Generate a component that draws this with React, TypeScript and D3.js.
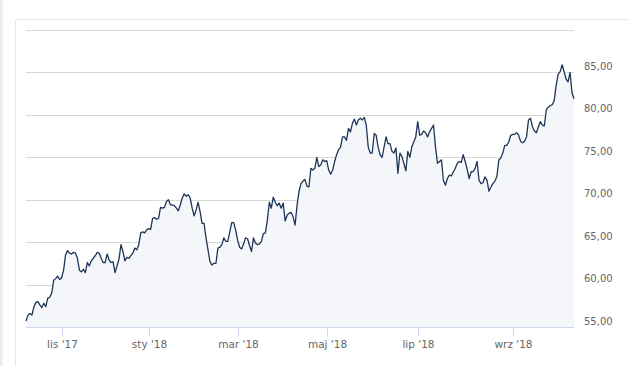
import { useEffect, useRef } from "react"
import * as d3 from "d3"

// closing prices, one per session in order
const pricesOctDec17 = [
  55.7, 56.4, 56.6, 56.4, 57.4, 57.9, 58.0, 57.6, 57.3, 57.8, 57.4, 58.4, 58.5, 59.0, 60.5, 60.7,
  61.0, 60.6, 60.8, 61.7, 63.5, 64.0, 63.7, 63.6, 63.8, 63.7, 63.1, 61.7, 61.5, 61.8, 61.4, 62.6,
  62.2, 62.8, 63.1, 63.4, 63.8, 63.7, 63.1, 62.6, 62.6, 63.6, 62.9, 62.6, 62.7, 61.4, 62.2, 63.0,
]
const pricesDecFeb18 = [
  64.7, 63.9, 62.8, 63.2, 63.1, 63.4, 63.7, 64.3, 64.1, 64.7, 66.1, 66.2, 66.1, 66.45, 66.6, 66.5,
  67.8, 67.9, 67.7, 67.8, 69.1, 69.0, 69.1, 69.8, 70.0, 69.4, 69.4, 69.3, 69.0, 68.7, 69.4, 70.2,
  70.7, 70.4, 70.6, 70.2, 69.0, 68.1, 68.8, 69.7, 68.6, 67.2, 67.2, 65.5, 64.1, 62.7, 62.3,
]
const pricesFebApr18 = [
  62.5, 62.5, 64.3, 64.4, 64.7, 65.5, 65.1, 65.1, 66.2, 67.3, 67.3, 66.4, 65.2, 64.4, 64.2, 64.8,
  65.5, 65.4, 64.6, 63.9, 65.5, 64.9, 64.7, 64.8, 65.1, 66.0, 66.1, 67.6, 69.7, 69.0, 70.3, 69.7,
  69.3, 69.6, 69.0, 69.6, 67.5, 68.2, 68.4, 68.5, 68.0, 67.0, 69.3, 71.0, 71.9, 72.2,
]
const pricesAprJun18 = [
  72.4, 71.6, 71.5, 73.7, 73.5, 73.7, 75.0, 73.9, 74.1, 74.7, 74.5, 74.6, 73.5, 73.0, 73.5, 74.5,
  75.3, 75.9, 76.2, 77.4, 77.4, 77.0, 78.4, 78.0, 79.0, 79.5, 78.8, 79.4, 79.6, 79.4, 79.7, 78.8,
  76.2, 75.5, 75.5, 77.8, 77.6, 76.2, 75.3, 75.0, 76.2, 77.4, 76.6, 76.6, 75.7,
]
const pricesJunAug18 = [
  75.5, 76.1, 73.1, 75.5, 75.1, 74.3, 73.4, 75.7, 75.0, 76.2, 76.8, 77.4, 79.2, 77.6, 77.7, 78.1,
  77.9, 77.4, 78.0, 78.4, 78.8, 76.2, 74.3, 74.5, 74.7, 72.3, 71.7, 72.5, 72.9, 72.8, 73.3, 73.7,
  74.3, 74.5, 74.4, 75.3, 74.5, 73.6, 72.5, 73.3, 73.3, 73.7, 74.5, 72.3, 71.9, 72.0,
]
const pricesAugOct18 = [
  72.7, 72.3, 71.0, 71.5, 71.9, 72.2, 72.7, 74.7, 74.9, 75.5, 76.4, 76.4, 76.8, 77.6, 77.7, 77.7,
  77.9, 77.6, 76.9, 76.7, 76.9, 77.4, 79.4, 79.6, 78.6, 78.1, 77.9, 78.6, 79.2, 78.8, 78.7, 80.6,
  80.9, 81.1, 81.2, 81.7, 83.5, 84.8, 85.1, 85.9, 85.1, 84.2, 83.9, 85.0, 82.6, 81.9,
]

// first session of each labelled month (ordinal axis)
const monthLabels = ["lis '17", "sty '18", "mar '18", "maj '18", "lip '18", "wrz '18"]
const monthIndex = [18, 62, 107, 152, 198, 246]

const yTicks = [55, 60, 65, 70, 75, 80, 85, 90]

export default function App() {
  const svgRef = useRef<SVGSVGElement>(null)
  const width = 628
  const height = 366

  useEffect(() => {
    if (!svgRef.current) return
    const svg = d3.select(svgRef.current)
    svg.selectAll("*").remove()

    const prices = [
      ...pricesOctDec17, ...pricesDecFeb18, ...pricesFebApr18,
      ...pricesAprJun18, ...pricesJunAug18, ...pricesAugOct18,
    ]

    const plot = { left: 26, right: 574, top: 30, bottom: 327 }

    const x = d3.scaleLinear().domain([0, prices.length - 1]).range([plot.left, plot.right])
    const y = d3.scaleLinear().domain([55, 90]).range([plot.bottom, plot.top])

    // page strip + panel frame
    svg.append("rect").attr("x", 0).attr("y", 0).attr("width", 2.5).attr("height", height).attr("fill", "#ebebeb")
    svg.append("path")
      .attr("d", `M15.5,${height} V19.5 H${width}`)
      .attr("fill", "none").attr("stroke", "#e6e6e6")

    // grid
    svg.append("g").selectAll("line")
      .data(yTicks.filter(t => t !== 55))
      .enter().append("line")
      .attr("x1", plot.left).attr("x2", plot.right)
      .attr("y1", d => Math.round(y(d)) + 0.5).attr("y2", d => Math.round(y(d)) + 0.5)
      .attr("stroke", "#d8d8d8")

    // area + line
    const area = d3.area<number>()
      .x((_, i) => x(i)).y0(y(55)).y1(d => y(d))
    svg.append("path").datum(prices).attr("d", area).attr("fill", "#f4f6f9")

    const line = d3.line<number>().x((_, i) => x(i)).y(d => y(d))
    svg.append("path").datum(prices).attr("d", line)
      .attr("fill", "none").attr("stroke", "#1f3557").attr("stroke-width", 1.3)
      .attr("stroke-linejoin", "round")

    // x axis
    const axisY = Math.round(y(55)) + 0.5
    svg.append("line").attr("x1", plot.left).attr("x2", plot.right)
      .attr("y1", axisY).attr("y2", axisY).attr("stroke", "#ccd6eb")

    const ticks = svg.append("g").selectAll("g")
      .data(monthIndex.map((idx, i) => ({ idx, label: monthLabels[i] })))
      .enter().append("g")
      .attr("transform", d => `translate(${Math.round(x(d.idx)) + 0.5},0)`)
    ticks.append("line").attr("y1", axisY).attr("y2", axisY + 9).attr("stroke", "#ccd6eb")
    ticks.append("text")
      .attr("y", axisY + 20)
      .attr("text-anchor", "middle")
      .attr("font-family", "DejaVu Sans")
      .attr("font-size", 10.5)
      .attr("fill", "#666")
      .text(d => d.label)

    // y labels (right side)
    const fmt = d3.format(".2f")
    svg.append("g").selectAll("text")
      .data(yTicks.filter(t => t !== 90))
      .enter().append("text")
      .attr("x", 584)
      .attr("y", d => y(d) - 2.5)
      .attr("font-family", "DejaVu Sans")
      .attr("font-size", 10)
      .attr("fill", "#666")
      .text(d => fmt(d).replace(".", ","))
  }, [])

  return (
    <svg
      ref={svgRef}
      width={width}
      height={height}
      viewBox={`0 0 ${width} ${height}`}
      style={{ position: "absolute", left: 0, top: 0, background: "#fff" }}
      xmlns="http://www.w3.org/2000/svg"
    ></svg>
  )
}
